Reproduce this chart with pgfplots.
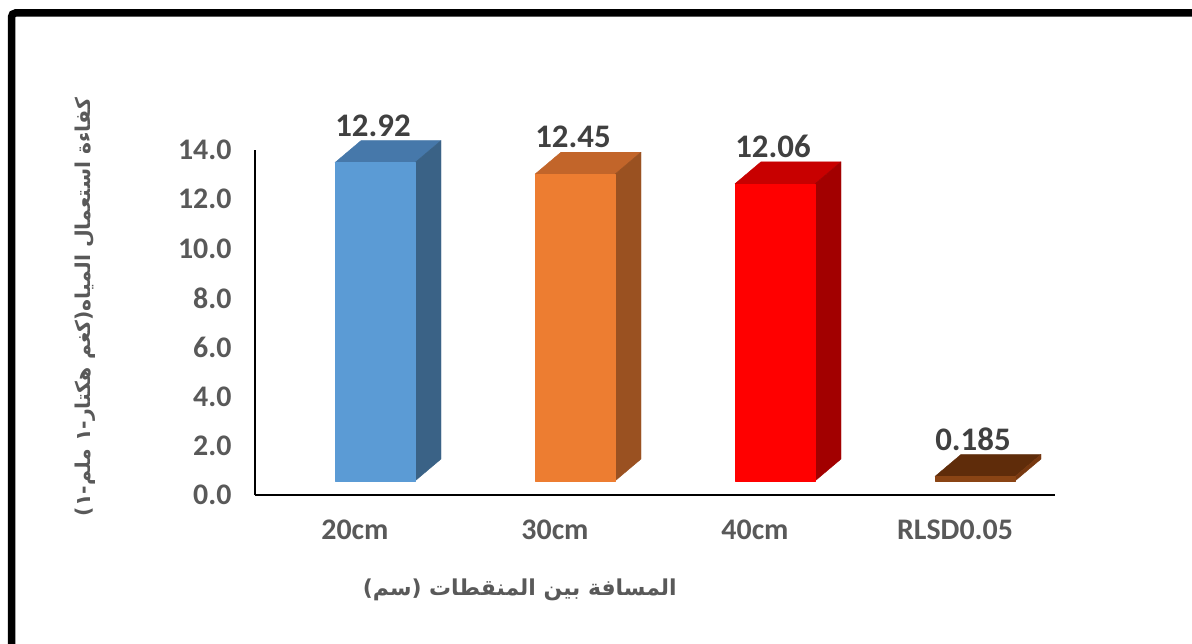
\documentclass[border=0pt]{standalone}
\usepackage{pgfplots}
\pgfplotsset{compat=1.18}
\usepackage{pgfplotstable}
\usepackage{fontspec}
\setmainfont{Carlito}
\newfontfamily\arabicfont[Script=Arabic]{DejaVu Sans}
\TeXXeTstate=1
\definecolor{tickgray}{HTML}{595959}
\definecolor{labgray}{HTML}{404040}
\definecolor{blueF}{HTML}{5B9BD5}
\definecolor{blueT}{HTML}{4678AA}
\definecolor{blueS}{HTML}{3A6286}
\definecolor{orangeF}{HTML}{ED7D31}
\definecolor{orangeT}{HTML}{C2652A}
\definecolor{orangeS}{HTML}{9A5121}
\definecolor{redF}{HTML}{FF0000}
\definecolor{redT}{HTML}{C80000}
\definecolor{redS}{HTML}{A20000}
\definecolor{brownF}{HTML}{8A4414}
\definecolor{brownT}{HTML}{5F2C0A}
\definecolor{brownS}{HTML}{773810}

\pgfplotstableread{
x v lab
0 12.92 12.92
1 12.45 12.45
2 12.06 12.06
3 0.185 0.185
}\datatable

\begin{document}
\begin{tikzpicture}
\useasboundingbox (0bp,0bp) rectangle (1192bp,644bp);
\draw[line width=7.5bp, rounded corners=4bp] (11.5bp,-30bp) -- (11.5bp,631bp) -- (1230bp,631bp);
\begin{axis}[
  at={(255bp,149bp)}, anchor=south west,
  scale only axis, width=800bp, height=345bp,
  xmin=-0.5, xmax=3.5, ymin=0, ymax=14,
  axis x line*=bottom, axis y line*=left,
  axis line style={line width=2.5bp, -},
  xtick={0,1,2,3}, xticklabels={20cm,30cm,40cm,RLSD0.05},
  ytick={0,2,...,14},
  major tick length=0pt,
  clip=false,
  /pgf/number format/assume math mode=true,
  yticklabel style={/pgf/number format/fixed, /pgf/number format/fixed zerofill, /pgf/number format/precision=1, xshift=-20bp},
  xticklabel style={yshift=-21bp},
  tick label style={font=\bfseries\fontsize{30}{32}\selectfont, text=tickgray},
  xlabel={\arabicfont\bfseries\beginR المسافة بين المنقطات (سم)\endR},
  xlabel style={at={(axis description cs:0.331,-0.275)}, anchor=center, font=\fontsize{22}{26}\selectfont, text=tickgray},
  ylabel={\arabicfont\bfseries\beginR كفاءة استعمال المياه(كغم هكتار-١ ملم-١)\endR},
  ylabel style={at={(axis description cs:-0.2125,0.545)}, anchor=center, font=\fontsize{20.5}{26}\selectfont, text=tickgray},
  every axis plot/.append style={line width=0.4bp, line join=round},
]
% 20cm
\addplot[fill=blueT, draw=blueT] coordinates {(-0.1,13.49) (0.3,13.49) (0.43,14.38) (0.03,14.38)} --cycle;
\addplot[fill=blueS, draw=blueS] coordinates {(0.3,0.57) (0.43,1.46) (0.43,14.38) (0.3,13.49)} --cycle;
\addplot[fill=blueF, draw=blueF] coordinates {(-0.1,0.57) (0.3,0.57) (0.3,13.49) (-0.1,13.49)} --cycle;
% 30cm
\addplot[fill=orangeT, draw=orangeT] coordinates {(0.9,13.02) (1.3,13.02) (1.43,13.91) (1.03,13.91)} --cycle;
\addplot[fill=orangeS, draw=orangeS] coordinates {(1.3,0.57) (1.43,1.46) (1.43,13.91) (1.3,13.02)} --cycle;
\addplot[fill=orangeF, draw=orangeF] coordinates {(0.9,0.57) (1.3,0.57) (1.3,13.02) (0.9,13.02)} --cycle;
% 40cm
\addplot[fill=redT, draw=redT] coordinates {(1.9,12.63) (2.3,12.63) (2.43,13.52) (2.03,13.52)} --cycle;
\addplot[fill=redS, draw=redS] coordinates {(2.3,0.57) (2.43,1.46) (2.43,13.52) (2.3,12.63)} --cycle;
\addplot[fill=redF, draw=redF] coordinates {(1.9,0.57) (2.3,0.57) (2.3,12.63) (1.9,12.63)} --cycle;
% RLSD0.05
\addplot[fill=brownT, draw=brownT] coordinates {(2.9,0.755) (3.3,0.755) (3.43,1.645) (3.03,1.645)} --cycle;
\addplot[fill=brownS, draw=brownS] coordinates {(3.3,0.57) (3.43,1.46) (3.43,1.645) (3.3,0.755)} --cycle;
\addplot[fill=brownF, draw=brownF] coordinates {(2.9,0.57) (3.3,0.57) (3.3,0.755) (2.9,0.755)} --cycle;
% value labels
\addplot[draw=none, mark=none, nodes near coords, point meta=explicit symbolic,
  nodes near coords style={anchor=south, inner sep=2bp, yshift=2bp, font=\bfseries\fontsize{33}{36}\selectfont, text=labgray}]
  table[x expr=\thisrow{x}+0.09, y expr=\thisrow{v}+1.46, meta=lab] {\datatable};
\end{axis}
\end{tikzpicture}
\end{document}
